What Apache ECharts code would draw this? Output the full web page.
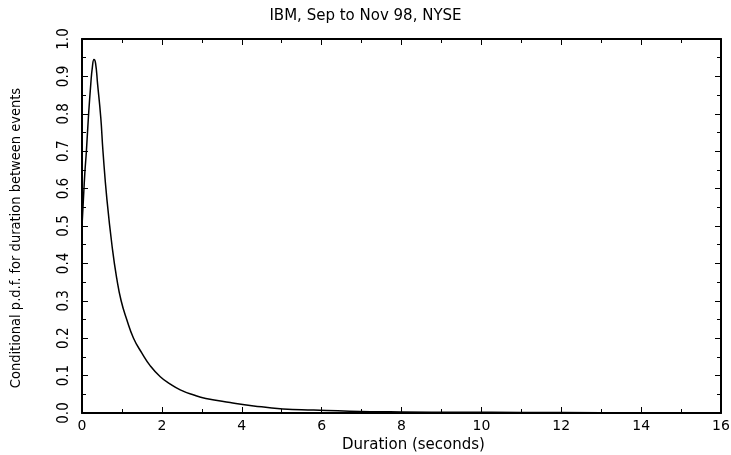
<!DOCTYPE html>
<html><head><meta charset="utf-8">
<script src="https://cdn.jsdelivr.net/npm/echarts@6/dist/echarts.min.js"></script>
<style>html,body{margin:0;padding:0;background:#fff}#c{width:731px;height:455px}</style>
</head><body><div id="c"></div>
<script>
const titleText = "IBM, Sep to Nov 98, NYSE";
const xName = "Duration (seconds)";
const yName = "Conditional p.d.f. for duration between events";
const durations = [0, 0.03, 0.07, 0.11, 0.16, 0.22, 0.26, 0.3, 0.34, 0.39, 0.47, 0.525, 0.625, 0.765, 0.87, 0.98, 1.12, 1.29, 1.5, 1.71, 1.96, 2.2, 2.46, 2.8, 3.1, 3.71, 4.3, 5.03, 5.8, 6.7, 8, 9.5, 11, 13, 16];
const pdf = [0.50, 0.56, 0.64, 0.70, 0.79, 0.88, 0.925, 0.945, 0.935, 0.88, 0.79, 0.70, 0.57, 0.436, 0.36, 0.30, 0.25, 0.20, 0.16, 0.126, 0.097, 0.078, 0.062, 0.048, 0.039, 0.028, 0.019, 0.011, 0.008, 0.005, 0.003, 0.002, 0.0015, 0.001, 0.0005];

const chart = echarts.init(document.getElementById('c'), null, {renderer: 'canvas'});
const axisLine = {show: true, onZero: false, lineStyle: {color: '#000', width: 2}};
const tick = {show: true, inside: true, length: 6, lineStyle: {color: '#000', width: 1}};
const minor = {show: true, splitNumber: 2, length: 4, lineStyle: {color: '#000', width: 1}};
const narrow = "'DejaVu Sans Condensed', 'Liberation Sans Narrow', sans-serif";
chart.setOption({
  animation: false,
  backgroundColor: '#fff',
  title: {text: titleText, left: 'center', top: 4,
    textStyle: {fontFamily: 'DejaVu Sans', fontWeight: 'normal', fontSize: 15, color: '#000'}},
  grid: {left: 82, right: 10, top: 39, bottom: 42, containLabel: false, outerBoundsMode: 'none'},
  xAxis: [{
    type: 'value', min: 0, max: 16, interval: 2, position: 'bottom',
    name: xName, nameLocation: 'middle', nameGap: 25,
    nameTextStyle: {fontFamily: 'DejaVu Sans', fontSize: 15, color: '#000', padding: [0, 0, 0, 24]},
    axisLine: axisLine, axisTick: tick, minorTick: minor,
    splitLine: {show: false}, minorSplitLine: {show: false},
    axisLabel: {margin: 6, fontFamily: 'DejaVu Sans', fontSize: 14, color: '#000'}
  }, {
    type: 'value', min: 0, max: 16, interval: 2, position: 'top',
    axisLine: axisLine, axisTick: tick, minorTick: minor,
    splitLine: {show: false}, axisLabel: {show: false}
  }],
  yAxis: [{
    type: 'value', min: 0, max: 1, interval: 0.1, position: 'left',
    name: yName, nameLocation: 'middle', nameGap: 58, nameRotate: 90,
    nameTextStyle: {fontFamily: narrow, fontSize: 14.5, color: '#000', padding: [0, 24, 0, 0]},
    axisLine: axisLine, axisTick: tick, minorTick: minor,
    splitLine: {show: false},
    axisLabel: {rotate: 90, margin: 10, fontFamily: narrow, fontSize: 15, color: '#000',
      formatter: v => v.toFixed(1)}
  }, {
    type: 'value', min: 0, max: 1, interval: 0.1, position: 'right',
    axisLine: axisLine, axisTick: tick, minorTick: minor,
    splitLine: {show: false}, axisLabel: {show: false}
  }],
  series: [{
    type: 'line', xAxisIndex: 0, yAxisIndex: 0,
    data: durations.map((d, i) => [d, pdf[i]]),
    smooth: 0.5, showSymbol: false,
    lineStyle: {color: '#000', width: 1.5}
  }]
});
</script></body></html>
